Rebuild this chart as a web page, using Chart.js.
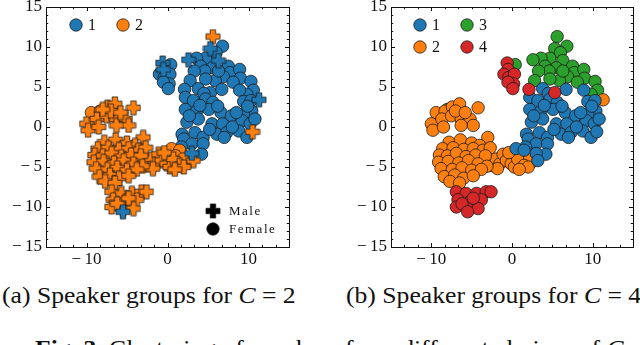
<!DOCTYPE html>
<html>
<head>
<meta charset="utf-8">
<script src="https://cdn.jsdelivr.net/npm/chart.js@4.4.1/dist/chart.umd.min.js"></script>
<style>
  html, body { margin: 0; padding: 0; background: #fff; }
  body { width: 640px; height: 345px; position: relative; overflow: hidden; font-family: 'Liberation Serif', serif; }
  .plot { position: absolute; top: 0; height: 270px; }
  #plotA { left: 0; width: 300px; }
  #plotB { left: 345px; width: 295px; }
  .sub, .fig { position: absolute; font-size: 22.5px; white-space: nowrap; color: #111;
               transform: scaleX(1.14); transform-origin: left top; }
  .sub { top: 283px; }
  .fig { top: 336px; left: 35px; }
</style>
</head>
<body>
<div class="plot" id="plotA"><canvas id="chartA"></canvas></div>
<div class="plot" id="plotB"><canvas id="chartB"></canvas></div>
<div class="sub" style="left:2px">(a) Speaker groups for <i>C</i> = 2</div>
<div class="sub" style="left:346px">(b) Speaker groups for <i>C</i> = 4</div>
<div class="fig"><b>Fig. 3.</b> Clustering of speakers from different choices of <i>C</i>.</div>
<script>
// tick labels
const xTickValues = [-10, 0, 10];
const yTickValues = [-15, -10, -5, 0, 5, 10, 15];

// (a) C = 2 : colour = group, marker = gender
const c2Group1Female = [
  [0.4, 7.8], [-1.0, 6.6], [-0.4, 6.2], [0.3, 6.6], [0.2, 5.4], [-0.5, 5.6], [0.1, 4.8],
  [6.8, 10.1], [6.0, 9.3], [4.7, 8.6], [3.6, 8.6], [4.1, 7.6], [5.5, 7.4], [4.6, 7.0], [3.3, 7.0],
  [7.5, 7.6], [7.7, 6.8], [8.9, 7.2], [9.0, 6.1], [6.9, 6.3], [5.9, 5.8], [4.7, 6.0], [2.8, 5.8],
  [10.3, 5.7], [10.6, 4.6], [9.8, 4.1], [8.1, 5.6], [6.3, 7.0], [2.1, 4.7], [5.3, 4.3], [6.7, 4.7],
  [8.9, 4.6], [3.8, 4.8], [4.5, 4.2],
  [2.2, 3.7], [3.2, 3.3], [4.7, 3.5], [5.6, 3.1], [9.4, 3.2], [10.3, 3.3],
  [2.2, 2.2], [3.6, 2.0], [5.1, 2.2], [6.6, 1.8], [7.9, 1.4], [10.4, 2.0], [9.4, 1.6],
  [2.4, 0.6], [3.8, 1.0], [5.5, 0.4], [6.8, 0.4], [9.2, 0.8], [10.2, 0.4],
  [1.8, -0.9], [3.4, -0.7], [4.4, -1.3], [6.1, -0.9], [7.3, -0.7], [8.8, -0.5], [9.8, -1.3],
  [2.0, -1.5], [3.0, -2.1], [4.4, -2.1], [1.7, -2.5], [4.2, -3.4],
  [6.2, 2.6], [4.0, 2.7], [8.0, 0.0], [5.2, -0.3], [9.9, 2.6], [7.0, -1.3], [2.7, 1.4], [10.8, 1.0], [8.5, 1.8]
];
const c2Group1Male = [
  [-0.6, 8.0], [-0.5, 7.2], [5.3, 9.8], [6.3, 8.3], [2.6, 8.4], [11.3, 3.4], [3.0, -3.3], [-5.5, -10.6]
];
const c2Group2Female = [
  [0.5, -2.7], [1.5, -2.9], [1.0, -3.6], [2.4, -4.4], [1.9, -4.0], [-9.4, 1.8], [-8.3, 2.0]
];
const c2Group2Male = [
  [5.6, 11.3], [10.5, -0.6], [3.2, -4.2],
  [-3.4, -4.2], [-2.6, -4.8], [-2.0, -4.0], [-1.5, -4.6], [-1.1, -3.4], [-0.7, -4.2], [-0.1, -4.6],
  [0.3, -5.0], [0.7, -4.0], [1.5, -4.8], [-0.4, -3.2], [2.0, -5.0], [-1.8, -5.2], [0.9, -5.3],
  [-7.8, -1.9], [-6.4, -1.6], [-5.0, -2.0], [-3.0, -1.3], [-4.0, -2.3],
  [-8.6, -2.7], [-7.3, -2.6], [-6.0, -2.8], [-4.8, -2.7], [-3.6, -2.9], [-2.7, -2.6],
  [-9.0, -3.5], [-8.0, -3.6], [-6.9, -3.3], [-5.7, -3.7], [-4.5, -3.5], [-3.3, -3.6],
  [-9.1, -4.4], [-7.9, -4.3], [-6.6, -4.5], [-5.4, -4.2], [-4.2, -4.6], [-3.1, -4.9],
  [-8.8, -5.2], [-7.4, -5.3], [-6.2, -5.1], [-5.0, -5.4], [-3.8, -5.3],
  [-8.4, -6.2], [-7.1, -6.0], [-6.0, -6.4], [-4.8, -6.1], [-7.7, -6.8], [-6.5, -7.0],
  [-7.4, 2.5], [-6.5, 2.9], [-4.2, 2.4], [-10.0, 0.4], [-8.7, 1.0], [-7.5, 1.4], [-6.3, 1.0],
  [-5.2, 1.0], [-4.8, 0.2], [-9.8, -0.4], [-8.5, 0.0], [-6.3, 0.2], [-7.0, 2.0], [-5.8, 1.8], [-8.0, 2.2],
  [-6.9, -8.1], [-5.7, -8.3], [-4.4, -8.3], [-3.2, -8.1], [-2.6, -8.1], [-6.7, -9.1], [-5.2, -9.3],
  [-3.8, -9.1], [-6.9, -10.0], [-5.5, -10.2], [-4.2, -10.2], [-6.2, -9.6], [-4.8, -8.9]
];

// (b) C = 4 : colour = group
const c4Group1 = [
  [6.7, 4.7], [8.9, 4.6], [3.8, 4.8], [4.5, 4.2],
  [2.2, 3.7], [3.2, 3.3], [4.7, 3.5], [5.6, 3.1], [9.4, 3.2], [10.3, 3.3],
  [2.2, 2.2], [3.6, 2.0], [5.1, 2.2], [6.6, 1.8], [7.9, 1.4], [10.4, 2.0], [9.4, 1.6],
  [2.4, 0.6], [3.8, 1.0], [5.5, 0.4], [6.8, 0.4], [9.2, 0.8], [10.2, 0.4],
  [1.8, -0.9], [3.4, -0.7], [4.4, -1.3], [6.1, -0.9], [7.3, -0.7], [8.8, -0.5], [9.8, -1.3],
  [2.0, -1.5], [3.0, -2.1], [4.4, -2.1], [1.7, -2.5], [4.2, -3.4],
  [6.2, 2.6], [4.0, 2.7], [8.0, 0.0], [5.2, -0.3], [9.9, 2.6], [7.0, -1.3], [2.7, 1.4], [10.8, 1.0], [8.5, 1.8],
  [3.0, -3.3], [10.5, -0.6], [3.2, -4.2], [0.5, -2.7], [1.5, -2.9]
];
const c4Group2 = [
  [11.3, 3.4],
  [1.0, -3.6], [2.4, -4.4], [1.9, -4.0],
  [-3.4, -4.2], [-2.6, -4.8], [-2.0, -4.0], [-1.5, -4.6], [-1.1, -3.4], [-0.7, -4.2], [-0.1, -4.6],
  [0.3, -5.0], [0.7, -4.0], [1.5, -4.8], [-0.4, -3.2], [2.0, -5.0], [-1.8, -5.2], [0.9, -5.3],
  [-7.8, -1.9], [-6.4, -1.6], [-5.0, -2.0], [-3.0, -1.3], [-4.0, -2.3],
  [-8.6, -2.7], [-7.3, -2.6], [-6.0, -2.8], [-4.8, -2.7], [-3.6, -2.9], [-2.7, -2.6],
  [-9.0, -3.5], [-8.0, -3.6], [-6.9, -3.3], [-5.7, -3.7], [-4.5, -3.5], [-3.3, -3.6],
  [-9.1, -4.4], [-7.9, -4.3], [-6.6, -4.5], [-5.4, -4.2], [-4.2, -4.6], [-3.1, -4.9],
  [-8.8, -5.2], [-7.4, -5.3], [-6.2, -5.1], [-5.0, -5.4], [-3.8, -5.3],
  [-8.4, -6.2], [-7.1, -6.0], [-6.0, -6.4], [-4.8, -6.1], [-7.7, -6.8], [-6.5, -7.0],
  [-9.4, 1.8], [-8.3, 2.0],
  [-7.4, 2.5], [-6.5, 2.9], [-4.2, 2.4], [-10.0, 0.4], [-8.7, 1.0], [-7.5, 1.4], [-6.3, 1.0],
  [-5.2, 1.0], [-4.8, 0.2], [-9.8, -0.4], [-8.5, 0.0], [-6.3, 0.2], [-7.0, 2.0], [-5.8, 1.8]
];
const c4Group3 = [
  [0.4, 7.8], [-8.0, 2.2],
  [5.6, 11.3], [6.8, 10.1], [5.3, 9.8], [6.0, 9.3], [6.3, 8.3], [4.7, 8.6], [3.6, 8.6], [2.6, 8.4],
  [4.1, 7.6], [5.5, 7.4], [4.6, 7.0], [3.3, 7.0], [7.5, 7.6], [7.7, 6.8], [8.9, 7.2], [9.0, 6.1],
  [6.9, 6.3], [5.9, 5.8], [4.7, 6.0], [2.8, 5.8], [10.3, 5.7], [10.6, 4.6], [9.8, 4.1], [8.1, 5.6], [6.3, 7.0]
];
const c4Group4 = [
  [-0.6, 8.0], [-0.5, 7.2], [-1.0, 6.6], [-0.4, 6.2], [0.3, 6.6], [0.2, 5.4], [-0.5, 5.6], [0.1, 4.8],
  [2.1, 4.7], [5.3, 4.3],
  [-6.9, -8.1], [-5.7, -8.3], [-4.4, -8.3], [-3.2, -8.1], [-2.6, -8.1], [-6.7, -9.1], [-5.2, -9.3],
  [-3.8, -9.1], [-6.9, -10.0], [-5.5, -10.2], [-4.2, -10.2], [-6.2, -9.6], [-4.8, -8.9], [-5.5, -10.6]
];

const BLUE = '#1f77b4', ORANGE = '#ff7f0e', GREEN = '#2ca02c', RED = '#d62728';
const EDGE = '#1a1a1a';
const SERIF = "'Liberation Serif', 'Times New Roman', serif";

// filled plus marker ("P" in matplotlib)
function plusMarker(color, size) {
  const c = document.createElement('canvas');
  c.width = size; c.height = size;
  const g = c.getContext('2d');
  const m = size / 2, L = size / 2 - 1, w = size * 0.17;
  g.beginPath();
  g.moveTo(m - w, m - L); g.lineTo(m + w, m - L); g.lineTo(m + w, m - w);
  g.lineTo(m + L, m - w); g.lineTo(m + L, m + w); g.lineTo(m + w, m + w);
  g.lineTo(m + w, m + L); g.lineTo(m - w, m + L); g.lineTo(m - w, m + w);
  g.lineTo(m - L, m + w); g.lineTo(m - L, m - w); g.lineTo(m - w, m - w);
  g.closePath();
  g.fillStyle = color; g.fill();
  g.lineWidth = 0.8; g.strokeStyle = EDGE; g.stroke();
  return c;
}

function toXY(arr) { return arr.map(p => ({ x: p[0], y: p[1] })); }

function circleSet(data, color) {
  return {
    data: toXY(data), pointStyle: 'circle', pointRadius: 6.2,
    pointBackgroundColor: color, pointBorderColor: EDGE, pointBorderWidth: 0.8
  };
}
function plusSet(data, color) {
  return { data: toXY(data), pointStyle: plusMarker(color, 16), pointRadius: 6 };
}

function fmt(v) { return v < 0 ? '\u2212\u2009' + Math.abs(v) : String(v); }

// frame with inward ticks on all four sides
const frameTicks = {
  id: 'frameTicks',
  afterDraw(chart) {
    const { ctx, chartArea: a, scales: { x, y } } = chart;
    ctx.save();
    ctx.strokeStyle = '#111';
    ctx.lineWidth = 1;
    const tick = (px, py, dx, dy) => { ctx.beginPath(); ctx.moveTo(px, py); ctx.lineTo(px + dx, py + dy); ctx.stroke(); };
    for (let i = 1; i < 18; i++) {
      const v = -15 + i * 5 / 3;
      const px = Math.round(x.getPixelForValue(v)) + 0.5;
      const major = xTickValues.some(t => Math.abs(t - v) < 1e-6);
      const len = major ? 4 : 2.2;
      tick(px, a.bottom, 0, -len);
      tick(px, a.top, 0, len);
    }
    for (let v = -14; v <= 14; v++) {
      const py = Math.round(y.getPixelForValue(v)) + 0.5;
      const len = v % 5 === 0 ? 4 : 2.2;
      tick(a.left, py, len, 0);
      tick(a.right, py, -len, 0);
    }
    ctx.strokeRect(Math.round(a.left) + 0.5, Math.round(a.top) + 0.5, Math.round(a.right - a.left), Math.round(a.bottom - a.top));
    ctx.restore();
  }
};

// marker legend drawn inside the axes
const markerLegend = {
  id: 'markerLegend',
  afterDraw(chart, args, opts) {
    const { ctx, chartArea: a } = chart;
    ctx.save();
    ctx.textBaseline = 'middle';
    (opts.items || []).forEach(it => {
      const cx = a.left + it.x, cy = a.top + it.y;
      if (it.kind === 'plus') {
        const img = plusMarker(it.color, it.size || 16);
        ctx.drawImage(img, cx - img.width / 2, cy - img.height / 2);
      } else {
        ctx.beginPath();
        ctx.arc(cx, cy, it.r || 6.2, 0, Math.PI * 2);
        ctx.fillStyle = it.color; ctx.fill();
        ctx.lineWidth = 0.8; ctx.strokeStyle = EDGE; ctx.stroke();
      }
      ctx.fillStyle = '#111';
      ctx.font = it.font || ('16px ' + SERIF);
      ctx.letterSpacing = it.spacing || '0px';
      ctx.fillText(it.label, cx + (it.gap || 12), cy + 1);
    });
    ctx.restore();
  }
};

function makeChart(id, datasets, rightPad, legendItems) {
  new Chart(document.getElementById(id), {
    type: 'scatter',
    data: { datasets: datasets },
    options: {
      responsive: true,
      maintainAspectRatio: false,
      animation: false,
      events: [],
      layout: { padding: { top: 6, right: rightPad, left: 0, bottom: 0 } },
      plugins: {
        legend: { display: false },
        tooltip: { enabled: false },
        markerLegend: { items: legendItems }
      },
      scales: {
        x: {
          min: -15, max: 15,
          grid: { display: false, drawTicks: false }, border: { display: false },
          afterBuildTicks: s => { s.ticks = xTickValues.map(v => ({ value: v })); },
          afterFit: s => { s.height = 23; s.paddingLeft = 0; s.paddingRight = 0; },
          ticks: { color: '#111', padding: 2, font: { family: SERIF, size: 17 }, callback: fmt, maxRotation: 0 }
        },
        y: {
          min: -15, max: 15,
          grid: { display: false, drawTicks: false }, border: { display: false },
          afterBuildTicks: s => { s.ticks = yTickValues.map(v => ({ value: v })); },
          afterFit: s => { s.width = 46; s.paddingTop = 0; s.paddingBottom = 0; },
          ticks: { color: '#111', padding: 4, font: { family: SERIF, size: 17 }, callback: fmt }
        }
      }
    },
    plugins: [frameTicks, markerLegend]
  });
}

makeChart('chartA', [
  plusSet(c2Group1Male, BLUE),
  plusSet(c2Group2Male, ORANGE),
  circleSet(c2Group2Female, ORANGE),
  circleSet(c2Group1Female, BLUE)
], 11, [
  { kind: 'circle', color: BLUE, label: '1', x: 30, y: 18 },
  { kind: 'circle', color: ORANGE, label: '2', x: 77, y: 18 },
  { kind: 'plus', color: '#000', label: 'Male', x: 167, y: 204, gap: 16, font: '13px ' + SERIF, spacing: '1.5px' },
  { kind: 'circle', color: '#000', label: 'Female', x: 167, y: 222, gap: 16, font: '13px ' + SERIF, spacing: '1.5px' }
]);

makeChart('chartB', [
  circleSet(c4Group4, RED),
  circleSet(c4Group1, BLUE),
  circleSet(c4Group2, ORANGE),
  circleSet(c4Group3, GREEN)
], 6, [
  { kind: 'circle', color: BLUE, label: '1', x: 29, y: 18 },
  { kind: 'circle', color: GREEN, label: '3', x: 76, y: 18 },
  { kind: 'circle', color: ORANGE, label: '2', x: 29, y: 40 },
  { kind: 'circle', color: RED, label: '4', x: 76, y: 40 }
]);
</script>
</body>
</html>
